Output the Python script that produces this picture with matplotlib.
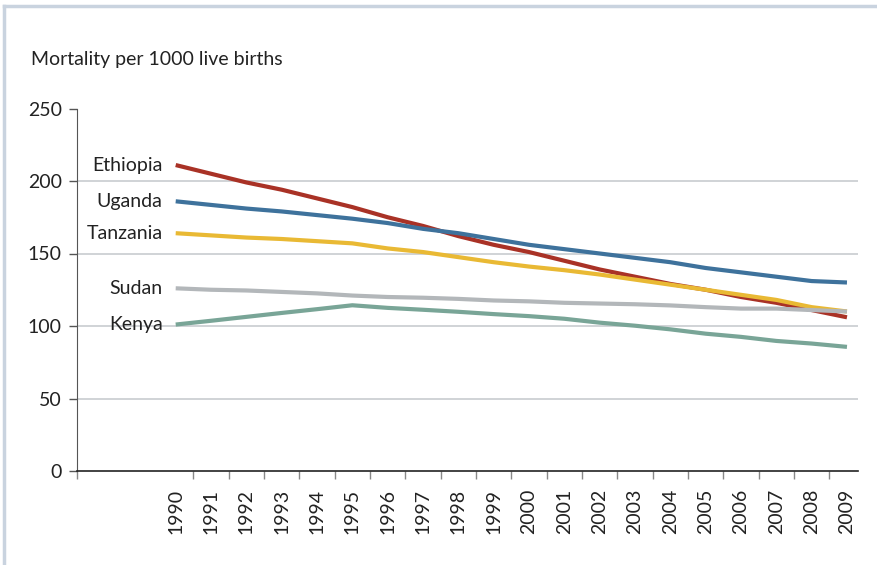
import numpy as np
import matplotlib.pyplot as plt
from matplotlib.lines import Line2D

# under-5 mortality
years = list(range(1990, 2010))
ethiopia = [211, 205, 199, 194, 188, 182, 175, 169, 162, 156,
            151, 145, 139, 134, 129, 125, 120, 116, 111, 106]
uganda = [186, 183.5, 181, 179, 176.5, 174, 171, 167, 164, 160,
          156, 153, 150, 147, 144, 140, 137, 134, 131, 130]
tanzania = [164, 162.5, 161, 160, 158.5, 157, 153.5, 151, 147.5, 144,
            141, 138.5, 135.5, 132, 128.5, 125, 121.5, 118, 113, 110]
sudan = [126, 125, 124.5, 123.5, 122.5, 121, 120, 119.5, 118.7, 117.6,
         117, 116, 115.5, 115, 114.2, 113, 112, 112, 111, 110]
kenya = [101, 103.6, 106.3, 109, 111.6, 114.3, 112.5, 111.2, 109.8, 108.2,
         106.8, 105, 102.3, 100.2, 97.7, 94.7, 92.5, 89.7, 87.9, 85.6]

names = ['Ethiopia', 'Uganda', 'Tanzania', 'Sudan', 'Kenya']
series = [ethiopia, uganda, tanzania, sudan, kenya]
colors = ['#a93226', '#3e729c', '#e9b934', '#b3b7ba', '#79a597']
draw_order = [3, 4, 2, 1, 0]   # red on top like the original

plt.rcParams['font.family'] = ['Lato', 'DejaVu Sans']
fs = 14

fig = plt.figure(figsize=(8.78, 5.65), dpi=100)
ax = fig.add_axes([77/878, 1-471/565, (858-77)/878, (471-108.5)/565])

x = np.arange(len(years))
for i in draw_order:
    ax.plot(x, series[i], color=colors[i], lw=3.0, solid_capstyle='butt',
            solid_joinstyle='round', zorder=3+i*0.01)

# country names left of the first point
for i, name in enumerate(names):
    ax.annotate(name, xy=(x[0], series[i][0]), xytext=(-9.5, 0),
                textcoords='offset points', ha='right', va='center',
                fontsize=fs, color='#222222')

left = (77-175.7)/35.33
right = (858-175.7)/35.33
ax.set_xlim(left, right)
ax.set_ylim(0, 250)

for v in [50, 100, 150, 200]:
    ax.axhline(v, color='#c3c7cb', lw=1.1, zorder=1)

ax.set_yticks([0, 50, 100, 150, 200, 250])
ax.tick_params(axis='y', length=6, width=1, color='#555555', pad=5,
               labelsize=fs, labelcolor='#222222')

# ticks between categories, labels on categories
ax.set_xticks([left] + list(x[:-1] + 0.5))
ax.set_xticklabels([])
ax.set_xticks(x, minor=True)
ax.set_xticklabels([str(y) for y in years], minor=True, rotation=90,
                   fontsize=fs, color='#222222')
ax.tick_params(axis='x', which='major', length=6, width=1, color='#888888')
ax.tick_params(axis='x', which='minor', length=0, pad=13)

for s in ['top', 'right']:
    ax.spines[s].set_visible(False)
ax.spines['left'].set_color('#555555')
ax.spines['bottom'].set_color('#222222')
ax.spines['bottom'].set_linewidth(1.2)

fig.text(31/878, 1-60/565, 'Mortality per 1000 live births', fontsize=fs,
         color='#222222', va='center', ha='left')

# pale frame (top and left edges)
fig.add_artist(Line2D([4/878, 1], [1-6/565, 1-6/565], color='#c9d3df', lw=2.5))
fig.add_artist(Line2D([4/878, 4/878], [0, 1-6/565], color='#c9d3df', lw=2.5))

fig.savefig('out.png', dpi=100)
